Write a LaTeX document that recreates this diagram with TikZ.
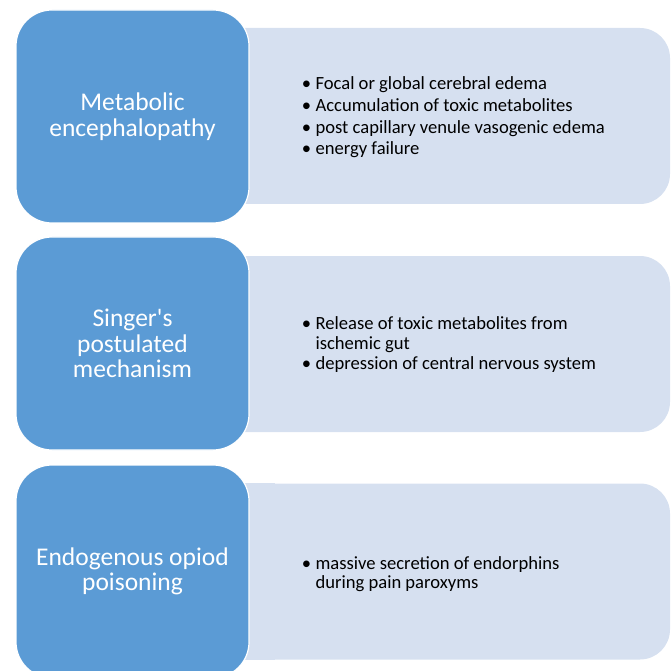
\documentclass[tikz,border=0pt]{standalone}
\usepackage{fontspec}
\setmainfont{Carlito}
\usetikzlibrary{positioning}

\definecolor{headblue}{HTML}{5B9BD5}
\definecolor{notefill}{HTML}{D6E0F0}

\tikzset{
  headbox/.style={fill=headblue, draw=white, line width=1.2pt, rounded corners=36pt,
    minimum width=233pt, minimum height=213pt, inner sep=0pt, text=white, align=center,
    font=\fontsize{25.5}{25.5}\selectfont},
  notebox/.style={fill=notefill, rounded corners=30pt, minimum width=455pt,
    minimum height=176pt, inner sep=0pt},
  notetext/.style={inner sep=0pt, align=left}
}
\newcommand{\itembox}[2]{{\fontsize{18.6}{#1}\selectfont
  \begin{tabular}{@{}l@{\hspace{4.5pt}}l@{}}#2\end{tabular}}}

\begin{document}
\begin{tikzpicture}[x=1pt,y=-1pt]
\useasboundingbox (0,0) rectangle (672,671);
\pgfmathsetmacro{\notex}{442.5} % centre of the light boxes
\pgfmathsetmacro{\headx}{132.5} % centre of the blue boxes

% light boxes, square on the left
\node[notebox] (note1) at (\notex,116) {};
\node[notebox] (note2) at (\notex,344) {};
\node[notebox] (note3) at (\notex,571.5) {};
\foreach \n in {note1,note2,note3}
  \fill[notefill] (\n.north west) rectangle ([xshift=60pt]\n.south west);

% blue boxes
\node[headbox] (head1) at (\headx,116.5) {Metabolic\\encephalopathy};
\node[headbox] (head2) at (\headx,343.5) {Singer\textquotesingle s\\postulated\\mechanism};
\node[headbox] (head3) at (\headx,571.5) {Endogenous opiod\\poisoning};

% bullet texts
\node[notetext, right=52pt of head1, yshift=-1.5pt] (text1) {\itembox{21.7}{%
  \textbullet & Focal or global cerebral edema\\
  \textbullet & Accumulation of toxic metabolites\\
  \textbullet & post capillary venule vasogenic edema\\
  \textbullet & energy failure}};
\node[notetext, right=52pt of head2, yshift=-1.5pt] (text2) {\itembox{20}{%
  \textbullet & Release of toxic metabolites from\\
              & ischemic gut\\
  \textbullet & depression of central nervous system}};
\node[notetext, right=52pt of head3, yshift=-4pt] (text3) {\itembox{19}{%
  \textbullet & massive secretion of endorphins\\
              & during pain paroxyms}};
\end{tikzpicture}
\end{document}
